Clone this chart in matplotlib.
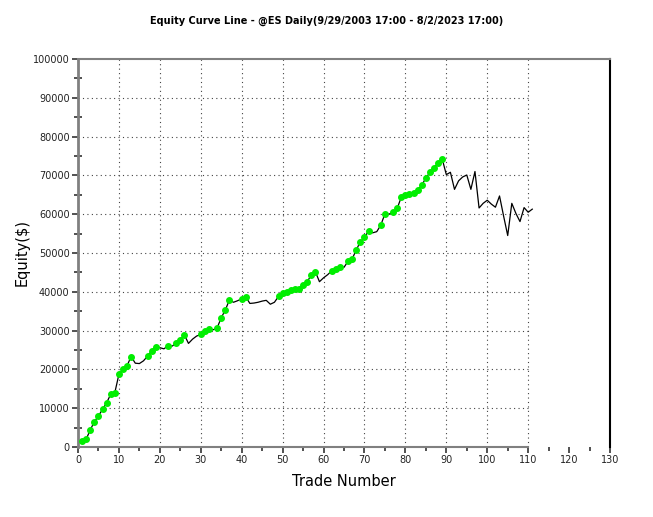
import matplotlib
matplotlib.use("Agg")
import matplotlib.pyplot as plt
import numpy as np

# equity after each trade (thousands of $)
equity_k = [
    1.5, 2.0, 4.4, 6.5, 8.0, 9.7, 11.4, 13.6, 14.0, 18.7,
    20.0, 21.0, 23.3, 21.6, 21.5, 22.2, 23.4, 24.8, 25.9, 25.6,
    25.3, 26.1, 26.0, 26.7, 27.6, 28.9, 26.7, 27.8, 28.6, 29.0,
    30.0, 30.3, 30.2, 30.7, 33.3, 35.3, 37.9, 37.3, 37.7, 38.2,
    38.7, 37.0, 37.1, 37.3, 37.6, 37.8, 36.8, 37.3, 38.8, 39.6,
    39.9, 40.4, 40.6, 40.8, 41.8, 42.6, 44.3, 45.2, 42.6, 43.6,
    44.4, 45.4, 45.9, 46.4, 46.3, 47.9, 48.5, 50.8, 52.9, 54.0,
    55.7, 55.2, 55.5, 57.2, 60.1, 60.0, 60.6, 61.5, 64.4, 64.9,
    65.3, 65.5, 66.2, 67.5, 69.3, 70.8, 72.0, 73.2, 74.2, 70.2,
    70.8, 66.4, 68.6, 69.6, 70.1, 66.4, 71.0, 61.6, 62.8, 63.6,
    62.6, 61.8, 64.7, 59.5, 54.5, 62.8, 60.2, 58.1, 61.7, 60.5,
    61.3,
]
# trades drawn with a green dot
marked_trades = [
    1, 2, 3, 4, 5, 6, 7, 8, 9, 10, 11, 12, 13, 17, 18, 19, 22, 24, 25, 26,
    30, 31, 32, 34, 35, 36, 37, 40, 41, 49, 50, 51, 52, 53, 54, 55, 56, 57, 58,
    62, 63, 64, 66, 67, 68, 69, 70, 71, 74, 75, 77, 78, 79, 80, 81, 82, 83,
    84, 85, 86, 87, 88, 89,
]
x_ticks = list(range(0, 131, 10))
y_ticks = list(range(0, 100001, 10000))

trades = np.arange(1, len(equity_k) + 1)
equity = np.array(equity_k) * 1000
marked = np.array(marked_trades)

fig = plt.figure(figsize=(6.53, 5.17), dpi=100)
ax = fig.add_axes([0.1194, 0.1354, 0.8148, 0.7505])

# dotted grid, only over trades 0..110
grid_style = dict(colors="#444444", linestyles=(0, (1, 3)), linewidths=0.8, zorder=1)
ax.hlines(y_ticks[1:-1], 0, 110, **grid_style)
ax.vlines(x_ticks[1:12], 0, 100000, **grid_style)

ax.plot(trades, equity, color="black", lw=0.9, zorder=2)
ax.plot(marked, equity[marked - 1], "o", color="#00ee00", ms=4, mec="#00ee00", zorder=3)

ax.set_xlim(0, 130)
ax.set_ylim(0, 100000)
ax.set_xticks(x_ticks)
ax.set_xticks(range(5, 130, 10), minor=True)
ax.set_yticks(y_ticks)
ax.set_yticks(range(5000, 100000, 10000), minor=True)

for s in ["left", "top", "bottom"]:
    ax.spines[s].set_color("#808080")
ax.spines["left"].set_linewidth(2)
ax.spines["top"].set_linewidth(1.5)
ax.spines["bottom"].set_linewidth(1.5)
ax.spines["bottom"].set_bounds(0, 110)
ax.spines["right"].set_color("black")
ax.spines["right"].set_linewidth(1.5)

ax.tick_params(axis="both", which="major", labelsize=7, length=4, width=1.2,
               color="#333333", labelcolor="#222222", pad=2)
ax.tick_params(axis="x", which="minor", length=3, width=1.2, color="#333333")
ax.tick_params(axis="y", which="minor", direction="inout", length=6, width=1.2, color="#333333")

ax.set_xlabel("Trade Number", fontsize=10.5, labelpad=6)
ax.set_ylabel("Equity($)", fontsize=10.5)
ax.yaxis.set_label_coords(-0.09, 0.5)
fig.text(0.5, 0.96, "Equity Curve Line - @ES Daily(9/29/2003 17:00 - 8/2/2023 17:00)",
         ha="center", va="center", fontsize=7, fontweight="bold")

fig.savefig("out.png", dpi=100)
